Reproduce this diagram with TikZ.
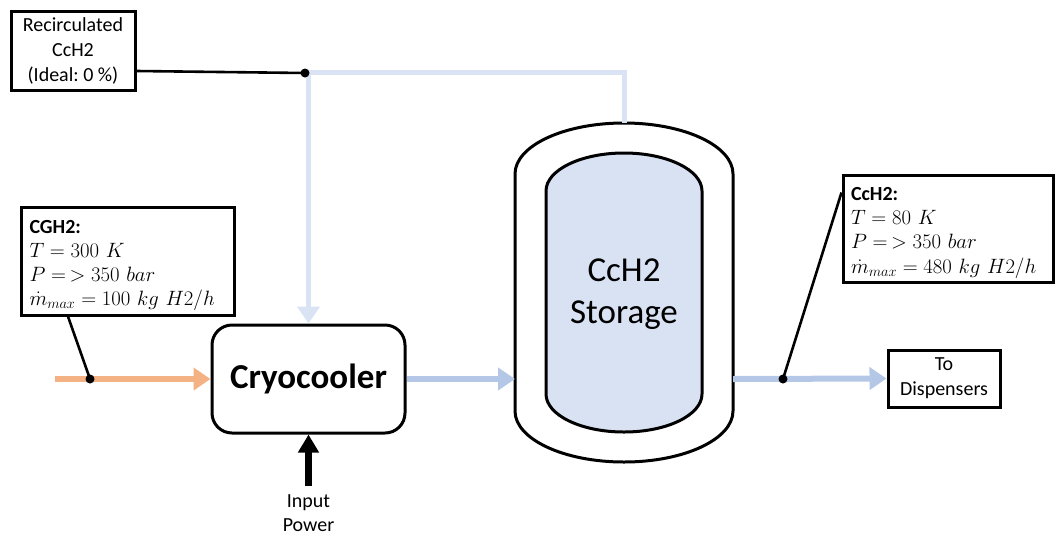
\documentclass[tikz,border=0pt]{standalone}
\usepackage{fontspec}
\setmainfont{Carlito}
\usetikzlibrary{arrows.meta}
\frenchspacing

\definecolor{recircblue}{HTML}{DAE3F3}
\definecolor{coldblue}{HTML}{B4C7E7}
\definecolor{warmorange}{HTML}{F4B183}
\definecolor{tankfill}{HTML}{D9E2F3}

\tikzset{
  labelbox/.style={draw, line width=3pt, align=center, inner sep=0pt,
    font=\fontsize{20}{25}\selectfont},
  databox/.style={draw, line width=3pt, align=left, inner ysep=0pt, inner xsep=8pt,
    font=\fontsize{20}{24}\selectfont},
  unitbox/.style={draw, line width=3pt, rounded corners=20pt, inner sep=0pt,
    font=\fontsize{35}{42}\selectfont\bfseries},
  callout/.style={line width=2.6pt},
  tap/.style={circle, fill=black, inner sep=0pt, minimum size=9pt},
  flowtip/.style={-{Triangle[length=17pt,width=22pt]}},
  warmflow/.style={flowtip, line width=6pt, draw=warmorange},
  coldflow/.style={flowtip, line width=6pt, draw=coldblue},
  recircflow/.style={flowtip, line width=5pt, draw=recircblue, line join=miter},
  powerflow/.style={-{Triangle[length=18pt,width=20pt]}, line width=6.5pt},
  tankwall/.style={line width=3pt, draw=black},
}
\newcommand{\firstlinestrut}{\rule{0pt}{22pt}}

\begin{document}
\begin{tikzpicture}[x=1pt, y=-1pt]
  \useasboundingbox (0,0) rectangle (1056,536);

  % process unit
  \node[unitbox, minimum width=193pt, minimum height=108pt] (cryo) at (308.5,379) {Cryocooler};

  % storage vessel: outer jacket and inner tank
  \draw[tankwall, fill=white]
    (515,174) -- (515,411) arc[start angle=180, end angle=360, x radius=109pt, y radius=51pt]
    -- (733,174) arc[start angle=0, end angle=180, x radius=109pt, y radius=51pt] -- cycle;
  \draw[tankwall, fill=tankfill]
    (546,191) -- (546,394) arc[start angle=180, end angle=360, x radius=78pt, y radius=38pt]
    -- (702,191) arc[start angle=0, end angle=180, x radius=78pt, y radius=38pt] -- cycle;
  \node[font=\fontsize{35}{42}\selectfont, align=center] (storage) at (624,294) {CcH2\\Storage};
  \coordinate (tankL) at (515,379);
  \coordinate (tankR) at (733,379);
  \coordinate (tankTop) at (624,123);

  % labels and info boxes
  \node[labelbox, minimum width=124pt, minimum height=79pt] (recirc) at (73,50.5)
    {Recirculated\\CcH2\\(Ideal: 0 \%)};
  \node[labelbox, minimum width=112pt, minimum height=57pt] (disp) at (944,378.5)
    {To\\Dispensers};
  \node[databox, minimum width=213pt, minimum height=108pt, text width=197pt] (cgh) at (128,261)
    {\firstlinestrut\textbf{CGH2:}\\
     $T = 300\ K$\\
     $P =\,> 350\ bar$\\[0.5pt]
     $\dot{m}_{max} = 100\ kg\ H2/h$};
  \node[databox, minimum width=210pt, minimum height=107pt, text width=194pt] (cch) at (948,228.5)
    {\firstlinestrut\textbf{CcH2:}\\
     $T = 80\ K$\\
     $P =\,> 350\ bar$\\[0.5pt]
     $\dot{m}_{max} = 480\ kg\ H2/h$};
  \node[font=\fontsize{20}{24}\selectfont, align=center, inner sep=0pt] (power) at (308.5,513)
    {Input\\Power};

  % stream points
  \coordinate (feed) at (55,379);
  \coordinate (rbend) at (308.5,72.5);
  \coordinate (rtap) at (305,73);
  \coordinate (wtap) at (90,379);
  \coordinate (ctap) at (783,379);
  \coordinate (powerstart) at (308.5,486);

  % flows
  \draw[recircflow] (tankTop) |- (rbend) -- (cryo.north);
  \draw[warmflow] (feed) -- (cryo.west);
  \draw[coldflow] (cryo.east) -- (tankL);
  \draw[coldflow] (tankR) -- (disp.west);
  \draw[powerflow] (powerstart) -- (cryo.south);

  % callout leaders
  \draw[callout] (recirc.east) ++(0,20.5) -- (rtap);
  \draw[callout] (cgh.south) ++(-60,0) -- (wtap);
  \draw[callout] (cch.north west) ++(0,19) -- (ctap);
  \node[tap] at (rtap) {};
  \node[tap] at (wtap) {};
  \node[tap] at (ctap) {};
\end{tikzpicture}
\end{document}
